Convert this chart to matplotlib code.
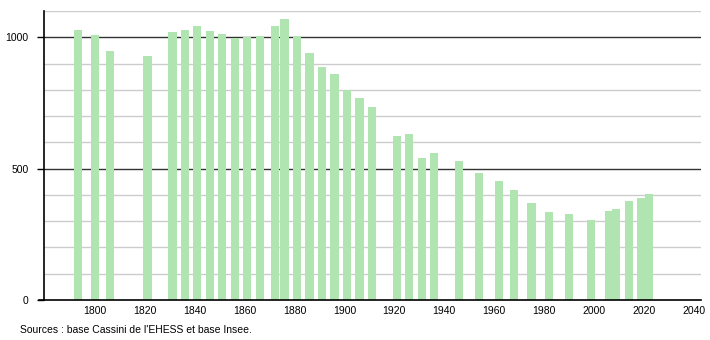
import matplotlib.pyplot as plt

years = [1793, 1800, 1806, 1821, 1831, 1836, 1841, 1846, 1851, 1856, 1861, 1866,
         1872, 1876, 1881, 1886, 1891, 1896, 1901, 1906, 1911, 1921, 1926, 1931,
         1936, 1946, 1954, 1962, 1968, 1975, 1982, 1990, 1999, 2006, 2009, 2014,
         2019, 2022]
population = [1029, 1008, 947, 929, 1020, 1029, 1042, 1023, 1011, 999, 1000, 1005,
              1042, 1071, 1004, 940, 885, 859, 801, 768, 734, 626, 631, 540,
              561, 528, 483, 452, 418, 368, 336, 326, 304, 338, 345, 376,
              390, 403]

xticks = [1800, 1820, 1840, 1860, 1880, 1900, 1920, 1940, 1960, 1980, 2000, 2020, 2040]
yticks = [0, 500, 1000]
source = "Sources : base Cassini de l'EHESS et base Insee."

plt.rcParams['font.family'] = ['Liberation Sans', 'DejaVu Sans']

fig = plt.figure(figsize=(7.1, 3.4), dpi=100)
ax = fig.add_axes([44 / 710, 40 / 340, 657 / 710, 289 / 340])

# light grid every 100, dark lines at 500 and 1000
for v in range(100, 1101, 100):
    if v % 500 == 0:
        ax.axhline(v, color='#333333', lw=1.0, zorder=1)
    else:
        ax.axhline(v, color='#cccccc', lw=1.0, zorder=1)

ax.bar(years, population, width=3.3, color='#b0e4b0', zorder=2)

ax.set_xlim(1779.5, 2043)
ax.set_ylim(0, 1100)
ax.set_xticks(xticks)
ax.set_yticks(yticks)
ax.tick_params(axis='x', length=0, pad=4, labelsize=7.5)
ax.tick_params(axis='y', length=5, width=1, pad=6, labelsize=7.5)

ax.spines['top'].set_visible(False)
ax.spines['right'].set_visible(False)
ax.spines['left'].set_linewidth(1.2)
ax.spines['bottom'].set_linewidth(1.2)
ax.spines['bottom'].set_bounds(1777.5, 2043)

fig.text(20 / 710, 1 - 330 / 340, source, fontsize=7.5, va='center', ha='left')

fig.savefig('out.png', dpi=100)
